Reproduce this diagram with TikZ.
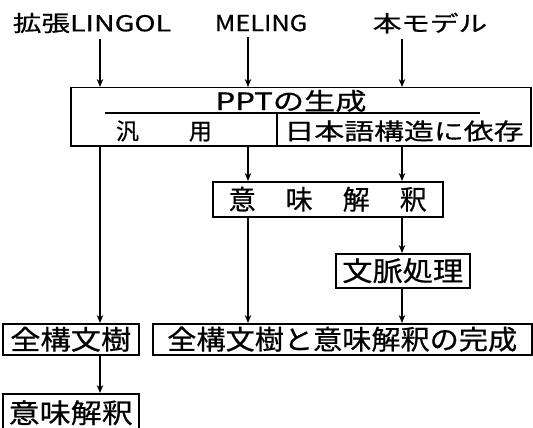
\documentclass[tikz,border=0pt]{standalone}
\usepackage{fontspec}
\usepackage{graphicx}
\newfontfamily\jp[FakeBold=0.6]{Noto Sans CJK JP}
\usetikzlibrary{arrows.meta}
\newcommand\sx[2]{\scalebox{#1}[1]{#2}}
\begin{document}
\begin{tikzpicture}[x=1pt,y=-1pt,line width=1.5pt,
  box/.style={draw,inner sep=0pt,anchor=north west},
  lbl/.style={inner sep=0pt,font=\jp\fontsize{22}{22}\selectfont},
  big/.style={inner sep=0pt,font=\jp\fontsize{27}{27}\selectfont},
  arr/.style={-{Stealth[length=8pt,width=6.5pt]}}]
\useasboundingbox[fill=white] (0,0) rectangle (533,428);
% column positions
\coordinate (c1) at (100,0);
\coordinate (c2) at (248,0);
\coordinate (c3) at (402,0);
% top labels
\node[lbl] (lingol) at (92,23) {\sx{1.3}{拡張LINGOL}};
\node[lbl] (meling) at (261,23) {\sx{1.15}{MELING}};
\node[lbl] (model) at (430,23) {\sx{1.3}{本モデル}};
% PPT box
\node[box,minimum width=460pt,minimum height=58pt] (ppt) at (70,87) {};
\coordinate (hl) at (105,113);
\coordinate (hr) at (480,113);
\coordinate (dv) at (277,113);
\draw (hl) -- (hr);
\draw (dv) -- (dv |- ppt.south);
\node[inner sep=0pt,font=\jp\fontsize{24}{24}\selectfont] (pptt) at (291,101) {\sx{1.3}{PPTの生成}};
\node[inner sep=0pt,font=\jp\fontsize{23}{23}\selectfont] (hanyo) at (164,131) {汎\hspace{50pt}用};
\node[inner sep=0pt,font=\jp\fontsize{23}{23}\selectfont] (nihongo) at (404,131) {\sx{1.3}{日本語構造に依存}};
% other boxes
\node[box,big,minimum width=230pt,minimum height=35pt] (imi1) at (212,181) {意\hspace{30pt}味\hspace{30pt}解\hspace{30pt}釈};
\node[box,big,minimum width=134pt,minimum height=34pt] (bun) at (335,253) {\sx{1.12}{文脈処理}};
\node[box,big,minimum width=136pt,minimum height=31pt] (zen1) at (2,323) {\sx{1.12}{全構文樹}};
\node[box,big,minimum width=379pt,minimum height=31pt] (zen2) at (152,323) {\sx{1.08}{全構文樹と意味解釈の完成}};
\node[box,big,minimum width=136pt,minimum height=38pt] (imi2) at (2,393) {\sx{1.15}{意味解釈}};
% connectors
\draw[arr,shorten <=5pt] (lingol.south -| c1) -- (ppt.north -| c1);
\draw[arr,shorten <=5pt] (meling.south -| c2) -- (ppt.north -| c2);
\draw[arr,shorten <=5pt] (model.south -| c3) -- (ppt.north -| c3);
\draw[arr] (ppt.south -| c1) -- (zen1.north -| c1);
\draw[arr] (ppt.south -| c2) -- (imi1.north -| c2);
\draw[arr] (ppt.south -| c3) -- (imi1.north -| c3);
\draw[arr] (imi1.south -| c2) -- (zen2.north -| c2);
\draw[arr] (imi1.south -| c3) -- (bun.north -| c3);
\draw[arr] (bun.south -| c3) -- (zen2.north -| c3);
\draw[arr] (zen1.south -| c1) -- (imi2.north -| c1);
\end{tikzpicture}
\end{document}
